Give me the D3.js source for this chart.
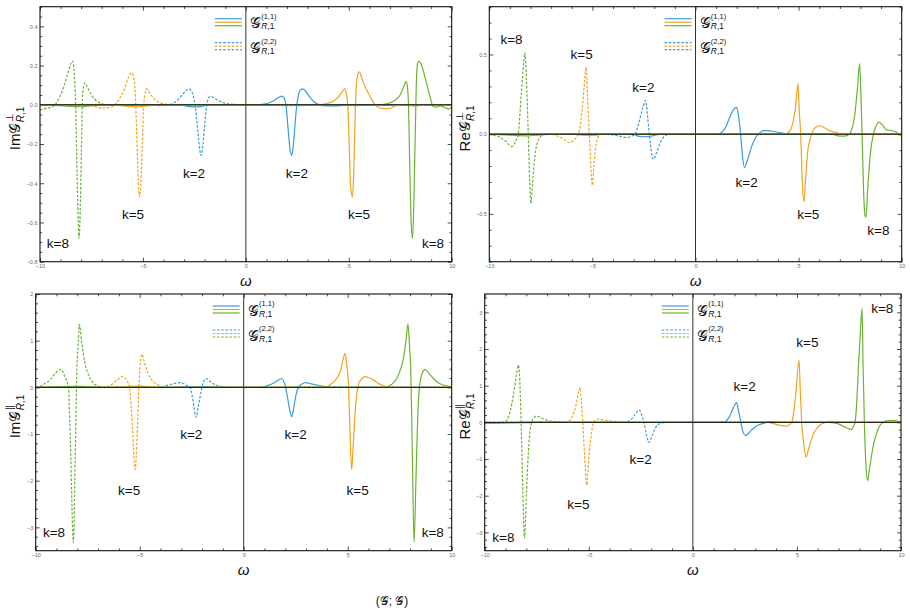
<!DOCTYPE html>
<html>
<head>
<meta charset="utf-8">
<script src="https://cdn.jsdelivr.net/npm/d3@7"></script>
<style>
  body { margin: 0; background: #fff; }
  svg text { font-family: "Liberation Sans", Arial, sans-serif; fill: #111; }
  .tick text { fill: #6a6a6a; font-size: 5.5px; }
</style>
</head>
<body>
<svg id="chart" width="910" height="610"></svg>
<script>
// ---- data ----
const omegaDomain = [-10, 10];
const xTickLabels = [-10, -5, 0, 5, 10];
const kLabels = ['k=8', 'k=5', 'k=2', 'k=2', 'k=5', 'k=8'];

// Im G-perp
const imPerpDomain = [-0.8, 0.5];
const imPerpTicks = [-0.8, -0.6, -0.4, -0.2, 0, 0.2, 0.4];
const imPerpSolidK2 = [[-10,0],[-3.2,0],[-2.8,-0.008],[-2.4,-0.011],[-2.0,-0.005],[-1.2,0],[0.4,0],[0.9,0.004],[1.3,0.018],[1.6,0.038],[1.74,0.044],[1.85,0.035],[1.95,0.0],[2.05,-0.12],[2.15,-0.23],[2.23,-0.258],[2.32,-0.19],[2.42,-0.06],[2.52,0.03],[2.62,0.07],[2.75,0.081],[2.9,0.07],[3.1,0.04],[3.35,0.012],[3.6,0],[3.9,-0.006],[4.3,-0.006],[4.8,-0.002],[5.5,0],[10,0]];
const imPerpSolidK5 = [[-10,0],[-6.3,0],[-5.8,-0.008],[-5.2,-0.01],[-4.7,-0.004],[-4.2,0],[3.4,0],[3.8,0.004],[4.2,0.016],[4.5,0.04],[4.7,0.07],[4.79,0.081],[4.88,0.06],[4.95,0.0],[5.02,-0.2],[5.08,-0.4],[5.12,-0.445],[5.18,-0.469],[5.24,-0.35],[5.3,-0.1],[5.36,0.08],[5.43,0.15],[5.51,0.168],[5.62,0.14],[5.8,0.09],[6.0,0.05],[6.2,0.01],[6.4,-0.01],[6.7,-0.02],[6.95,-0.02],[7.2,-0.008],[7.5,0],[10,0]];
const imPerpSolidK8 = [[-10,0],[-9.0,-0.004],[-8.5,-0.008],[-8.0,-0.01],[-7.5,-0.005],[-7,0],[6.5,0],[6.9,0.006],[7.2,0.02],[7.5,0.05],[7.7,0.1],[7.78,0.12],[7.85,0.09],[7.9,0.0],[7.96,-0.3],[8.03,-0.6],[8.1,-0.68],[8.16,-0.5],[8.22,-0.2],[8.28,0.1],[8.34,0.21],[8.4,0.223],[8.48,0.215],[8.6,0.18],[8.78,0.11],[8.95,0.04],[9.1,-0.01],[9.25,-0.012],[9.43,-0.006],[9.6,-0.01],[9.84,-0.022],[10,-0.012]];
const imPerpDashK2 = [[-10,0],[-4.6,0],[-4.2,-0.004],[-3.85,-0.003],[-3.6,0.004],[-3.35,0.02],[-3.1,0.05],[-2.9,0.072],[-2.76,0.081],[-2.62,0.065],[-2.5,0.02],[-2.4,-0.06],[-2.3,-0.17],[-2.18,-0.258],[-2.08,-0.2],[-1.98,-0.08],[-1.88,0.01],[-1.78,0.04],[-1.71,0.043],[-1.55,0.035],[-1.3,0.02],[-1.0,0.008],[-0.6,0.002],[0,0],[1.8,-0.004],[2.6,-0.005],[3.2,0],[10,0]];
const imPerpDashK5 = [[-10,0],[-7.5,-0.005],[-7.0,-0.017],[-6.7,-0.015],[-6.36,0],[-6.15,0.03],[-5.9,0.08],[-5.7,0.14],[-5.55,0.163],[-5.45,0.14],[-5.37,0.05],[-5.3,-0.15],[-5.23,-0.38],[-5.17,-0.469],[-5.1,-0.4],[-5.03,-0.2],[-4.96,0.0],[-4.88,0.065],[-4.82,0.081],[-4.7,0.065],[-4.5,0.035],[-4.2,0.012],[-3.8,0.002],[-3.4,0],[4.5,0],[5.2,-0.005],[6.0,0],[10,0]];
const imPerpDashK8 = [[-10,-0.026],[-9.7,-0.018],[-9.35,-0.008],[-9.2,0.01],[-9.03,0.043],[-8.85,0.09],[-8.65,0.16],[-8.5,0.21],[-8.41,0.223],[-8.34,0.17],[-8.27,0.0],[-8.2,-0.35],[-8.14,-0.6],[-8.1,-0.68],[-8.05,-0.55],[-7.99,-0.25],[-7.93,0.05],[-7.86,0.105],[-7.81,0.112],[-7.7,0.09],[-7.5,0.05],[-7.25,0.02],[-7.0,0.005],[-6.6,0],[7.5,0],[8.2,-0.006],[9.0,0],[10,0]];
const imPerpLabelPos = [[-9.13,-0.705],[-5.48,-0.556],[-2.52,-0.35],[2.48,-0.35],[5.5,-0.556],[9.09,-0.705]];

// Re G-perp
const rePerpDomain = [-0.8, 0.8];
const rePerpTicks = [-0.5, 0, 0.5];
const rePerpSolidK2 = [[-10,0],[-3.0,0],[-2.8,-0.012],[-2.4,-0.016],[-2.1,-0.01],[-1.7,0],[1.0,0],[1.2,0.005],[1.45,0.04],[1.67,0.11],[1.85,0.155],[2.0,0.168],[2.08,0.12],[2.19,0.0],[2.28,-0.14],[2.38,-0.21],[2.5,-0.17],[2.72,-0.078],[2.9,-0.025],[3.05,0.0],[3.29,0.023],[3.5,0.022],[3.78,0.017],[4.26,0.006],[4.5,0],[10,0]];
const rePerpSolidK5 = [[-10,0],[-6.0,0],[-5.5,-0.006],[-5.0,-0.008],[-4.5,0],[4.3,0],[4.5,0.01],[4.7,0.06],[4.85,0.17],[4.97,0.317],[5.03,0.15],[5.1,0.0],[5.18,-0.3],[5.26,-0.424],[5.33,-0.3],[5.45,-0.1],[5.55,-0.036],[5.68,0.017],[5.85,0.045],[6.04,0.053],[6.25,0.04],[6.52,0.021],[6.85,0.01],[7.1,0],[10,0]];
const rePerpSolidK8 = [[-10,0],[-9,-0.006],[-8.2,-0.01],[-7.5,-0.004],[-7,0],[6.6,0],[6.9,-0.01],[7.2,-0.012],[7.4,-0.005],[7.55,0.02],[7.7,0.1],[7.85,0.28],[7.96,0.443],[8.02,0.25],[8.08,0.0],[8.15,-0.35],[8.22,-0.51],[8.27,-0.52],[8.35,-0.35],[8.5,-0.1],[8.63,0.0],[8.75,0.05],[8.9,0.076],[9.05,0.06],[9.27,0.027],[9.5,0.023],[9.76,0.01],[10,-0.015]];
const rePerpDashK2 = [[-10,0],[-4.6,0],[-4.15,-0.002],[-3.6,-0.015],[-3.34,-0.021],[-3.1,-0.012],[-2.93,0.0],[-2.75,0.07],[-2.55,0.17],[-2.42,0.212],[-2.33,0.12],[-2.24,0.0],[-2.15,-0.1],[-2.05,-0.158],[-1.9,-0.12],[-1.7,-0.05],[-1.5,-0.012],[-1.32,0],[10,0]];
const rePerpDashK5 = [[-10,0],[-7.0,0],[-6.73,-0.01],[-6.35,-0.035],[-6.09,-0.053],[-5.9,-0.035],[-5.68,0.0],[-5.5,0.15],[-5.38,0.33],[-5.31,0.42],[-5.24,0.25],[-5.15,0.0],[-5.07,-0.22],[-5.0,-0.32],[-4.93,-0.2],[-4.8,-0.05],[-4.63,0],[10,0]];
const rePerpDashK8 = [[-10,0],[-9.75,-0.008],[-9.48,-0.019],[-9.2,-0.045],[-8.92,-0.078],[-8.75,-0.05],[-8.6,0.0],[-8.45,0.25],[-8.33,0.45],[-8.27,0.51],[-8.2,0.35],[-8.11,0.0],[-8.04,-0.3],[-7.98,-0.435],[-7.9,-0.3],[-7.75,-0.1],[-7.55,-0.02],[-7.3,0],[10,0]];
const rePerpLabelPos = [[-8.92,0.599],[-5.52,0.5],[-2.53,0.296],[2.48,-0.303],[5.47,-0.504],[8.87,-0.603]];

// Im G-parallel
const imParDomain = [-3.5, 2];
const imParTicks = [-3, -2, -1, 0, 1, 2];
const imParSolidK2 = [[-10,0],[-3.5,0],[-2.8,0.01],[-2.2,0.012],[-1.6,0.005],[-1.0,0],[0.79,0],[1.1,0.03],[1.43,0.086],[1.65,0.15],[1.83,0.19],[1.92,0.13],[1.99,0.05],[2.1,-0.2],[2.22,-0.5],[2.31,-0.63],[2.4,-0.45],[2.52,-0.15],[2.63,0],[2.8,0.07],[3.0,0.1],[3.2,0.08],[3.51,0.05],[3.91,0.015],[4.1,0],[10,0]];
const imParSolidK5 = [[-10,0],[-6.2,0],[-5.5,0.02],[-5.0,0.025],[-4.4,0.01],[-4.0,0],[3.9,0],[4.2,0.07],[4.47,0.19],[4.65,0.35],[4.78,0.6],[4.87,0.73],[4.95,0.5],[5.03,0.12],[5.1,-0.8],[5.19,-1.76],[5.27,-1.2],[5.38,-0.4],[5.51,0.05],[5.65,0.17],[5.83,0.23],[6.0,0.21],[6.23,0.16],[6.45,0.09],[6.71,0.04],[6.96,0],[10,0]];
const imParSolidK8 = [[-10,0],[-9.0,0.01],[-8.3,0.02],[-7.8,0.02],[-7.2,0.005],[-6.8,0],[6.88,0],[7.1,0.06],[7.36,0.19],[7.55,0.4],[7.68,0.62],[7.8,1.0],[7.9,1.36],[7.97,0.9],[8.03,0.4],[8.1,-1.2],[8.19,-3.32],[8.28,-2.0],[8.37,-0.6],[8.45,0.0],[8.58,0.3],[8.72,0.386],[8.9,0.3],[9.12,0.19],[9.35,0.1],[9.6,0.05],[10,0.005]];
const imParDashK2 = [[-10,0],[-4.0,0],[-3.62,0.05],[-3.3,0.085],[-3.06,0.1],[-2.85,0.07],[-2.7,0.03],[-2.58,0.0],[-2.45,-0.25],[-2.29,-0.64],[-2.18,-0.4],[-2.05,-0.1],[-1.95,0.1],[-1.81,0.19],[-1.6,0.12],[-1.35,0.05],[-1.0,0.012],[-0.6,0],[10,0]];
const imParDashK5 = [[-10,0],[-7.2,0],[-6.83,0.0],[-6.43,0.04],[-6.1,0.15],[-5.83,0.23],[-5.65,0.17],[-5.5,0.02],[-5.38,-0.6],[-5.22,-1.76],[-5.12,-1.0],[-5.03,0.1],[-4.95,0.6],[-4.9,0.71],[-4.78,0.55],[-4.6,0.3],[-4.4,0.15],[-4.1,0.05],[-3.8,0.01],[-3.5,0],[10,0]];
const imParDashK8 = [[-10,0],[-9.71,0.04],[-9.5,0.1],[-9.31,0.16],[-9.05,0.3],[-8.9,0.37],[-8.78,0.386],[-8.62,0.25],[-8.43,0.0],[-8.33,-1.2],[-8.19,-3.32],[-8.1,-1.5],[-8.02,0.4],[-7.95,1.0],[-7.9,1.35],[-7.8,1.0],[-7.65,0.55],[-7.45,0.25],[-7.2,0.08],[-6.95,0.02],[-6.7,0],[10,0]];
const imParLabelPos = [[-9.12,-3.1],[-5.51,-2.21],[-2.52,-1.0],[2.5,-1.0],[5.48,-2.21],[9.09,-3.1]];

// Re G-parallel
const reParDomain = [-3.5, 3.5];
const reParTicks = [-3, -2, -1, 0, 1, 2, 3];
const reParSolidK2 = [[-10,-0.02],[-9,-0.01],[-7,0],[1.3,0],[1.55,0.02],[1.75,0.15],[1.95,0.4],[2.1,0.54],[2.2,0.3],[2.31,0.0],[2.42,-0.28],[2.54,-0.36],[2.7,-0.28],[2.91,-0.16],[3.15,-0.07],[3.39,-0.03],[3.71,0.02],[4.0,0.01],[4.35,0],[10,0]];
const reParSolidK5 = [[-10,-0.02],[-9,-0.01],[-7,0],[3.6,0],[4.03,-0.06],[4.3,-0.09],[4.51,-0.11],[4.65,-0.06],[4.75,0.0],[4.85,0.3],[4.95,0.8],[5.1,1.7],[5.16,0.9],[5.23,0.0],[5.33,-0.6],[5.44,-0.95],[5.55,-0.75],[5.71,-0.44],[5.85,-0.25],[6.03,-0.12],[6.2,-0.04],[6.35,0.0],[6.59,0.03],[6.99,0.02],[7.3,0],[10,0]];
const reParSolidK8 = [[-10,-0.02],[-9,-0.01],[-7,0],[6.5,0],[6.91,-0.03],[7.2,-0.1],[7.55,-0.19],[7.63,-0.2],[7.72,-0.1],[7.79,0.0],[7.88,0.6],[7.95,1.47],[8.05,2.5],[8.13,3.11],[8.18,1.5],[8.24,0.0],[8.32,-1.2],[8.4,-1.59],[8.48,-1.3],[8.59,-0.89],[8.7,-0.55],[8.83,-0.3],[8.95,-0.12],[9.07,-0.03],[9.2,0.02],[9.39,0.05],[9.71,0.05],[9.85,0.03],[10,0.02]];
const reParDashK2 = [[-10,0],[-3.6,0],[-3.34,0.0],[-3.1,0.03],[-2.85,0.15],[-2.67,0.3],[-2.57,0.34],[-2.46,0.2],[-2.35,0.0],[-2.22,-0.35],[-2.11,-0.55],[-1.98,-0.4],[-1.8,-0.15],[-1.6,-0.04],[-1.3,0],[10,0]];
const reParDashK5 = [[-10,0],[-6.5,0],[-6.03,0.02],[-5.8,0.15],[-5.6,0.5],[-5.48,0.85],[-5.42,0.95],[-5.35,0.5],[-5.29,0.0],[-5.2,-0.9],[-5.1,-1.71],[-5.0,-1.0],[-4.86,-0.25],[-4.7,0.06],[-4.54,0.09],[-4.3,0.06],[-3.98,0.04],[-3.5,0.01],[-3.0,0],[10,0]];
const reParDashK8 = [[-10,-0.03],[-9.6,-0.03],[-9.26,-0.03],[-9.1,0.0],[-8.94,0.06],[-8.78,0.3],[-8.62,0.75],[-8.5,1.2],[-8.38,1.56],[-8.32,1.2],[-8.25,0.0],[-8.17,-1.8],[-8.09,-3.16],[-8.0,-2.0],[-7.9,-0.8],[-7.8,-0.15],[-7.74,0.0],[-7.6,0.14],[-7.53,0.17],[-7.3,0.13],[-7.02,0.06],[-6.54,0.02],[-6.0,0],[10,0]];
const reParLabelPos = [[-9.1,-3.12],[-5.5,-2.23],[-2.51,-1.0],[2.49,1.0],[5.5,2.18],[9.1,3.11]];

const colors = ['#3d9bd8', '#f5a21f', '#6ab334'];
const G = '\uD835\uDCA2';

// ---- layout ----
const svg = d3.select('#chart');

const panels = [
  { left: 40, right: 451.7, top: 6.7, bottom: 261.7, yDomain: imPerpDomain, yTicks: imPerpTicks, minor: 0.05, fmt: d3.format('.1f'),
    part: 'Im', sup: '\u22A5', solid: [imPerpSolidK2, imPerpSolidK5, imPerpSolidK8], dash: [imPerpDashK2, imPerpDashK5, imPerpDashK8], labels: imPerpLabelPos, yLabelX: 15 },
  { left: 489.3, right: 901.7, top: 6.7, bottom: 261.7, yDomain: rePerpDomain, yTicks: rePerpTicks, minor: 0.1, fmt: d3.format('.1f'),
    part: 'Re', sup: '\u22A5', solid: [rePerpSolidK2, rePerpSolidK5, rePerpSolidK8], dash: [rePerpDashK2, rePerpDashK5, rePerpDashK8], labels: rePerpLabelPos, yLabelX: 465 },
  { left: 35.7, right: 451.7, top: 294, bottom: 550.7, yDomain: imParDomain, yTicks: imParTicks, minor: 0.2, fmt: d3.format('d'),
    part: 'Im', sup: '\u2225', solid: [imParSolidK2, imParSolidK5, imParSolidK8], dash: [imParDashK2, imParDashK5, imParDashK8], labels: imParLabelPos, yLabelX: 15 },
  { left: 484.7, right: 901, top: 294, bottom: 550.7, yDomain: reParDomain, yTicks: reParTicks, minor: 0.2, fmt: d3.format('d'),
    part: 'Re', sup: '\u2225', solid: [reParSolidK2, reParSolidK5, reParSolidK8], dash: [reParDashK2, reParDashK5, reParDashK8], labels: reParLabelPos, yLabelX: 465 }
];

// script G with stacked super/subscript, baseline at (x0, y0)
function indexedG(parent, x0, y0, prefix, sup, mainSize, supSize, subSize, supDy, subDy) {
  const t = parent.append('text').attr('x', x0).attr('y', y0).attr('font-size', mainSize).text(prefix + G);
  const w = t.node().getComputedTextLength();
  parent.append('text').attr('x', x0 + w + 0.3).attr('y', y0 + supDy).attr('font-size', supSize).text(sup);
  const s = parent.append('text').attr('x', x0 + w + 0.3).attr('y', y0 + subDy).attr('font-size', subSize);
  s.append('tspan').attr('font-style', 'italic').text('R');
  s.append('tspan').text(',1');
}

function drawPanel(p) {
  const g = svg.append('g');
  const x = d3.scaleLinear().domain(omegaDomain).range([p.left, p.right]);
  const y = d3.scaleLinear().domain(p.yDomain).range([p.bottom, p.top]);

  const xMinor = d3.range(-10, 11).filter(v => v % 5 !== 0);
  const yMinor = d3.range(Math.ceil(p.yDomain[0] / p.minor - 1e-6), Math.floor(p.yDomain[1] / p.minor + 1e-6) + 1)
    .map(i => +(i * p.minor).toFixed(4))
    .filter(v => !p.yTicks.some(t => Math.abs(t - v) < 1e-6));

  const clean = sel => sel.select('.domain').remove();
  const tickStyle = sel => sel.selectAll('.tick line').attr('stroke', '#222').attr('stroke-width', 0.8);

  // major ticks with labels
  g.append('g').attr('transform', `translate(0,${p.bottom})`)
    .call(d3.axisBottom(x).tickValues(xTickLabels).tickSize(-4).tickPadding(2.5).tickFormat(d3.format('d')))
    .call(clean).call(tickStyle);
  g.append('g').attr('transform', `translate(${p.left},0)`)
    .call(d3.axisLeft(y).tickValues(p.yTicks).tickSize(-4).tickPadding(2.5).tickFormat(p.fmt))
    .call(clean).call(tickStyle);
  g.append('g').attr('transform', `translate(0,${p.top})`)
    .call(d3.axisTop(x).tickValues(xTickLabels).tickSize(-4).tickFormat(''))
    .call(clean).call(tickStyle);
  g.append('g').attr('transform', `translate(${p.right},0)`)
    .call(d3.axisRight(y).tickValues(p.yTicks).tickSize(-4).tickFormat(''))
    .call(clean).call(tickStyle);
  // minor ticks
  [[d3.axisBottom(x).tickValues(xMinor), `translate(0,${p.bottom})`],
   [d3.axisTop(x).tickValues(xMinor), `translate(0,${p.top})`],
   [d3.axisLeft(y).tickValues(yMinor), `translate(${p.left},0)`],
   [d3.axisRight(y).tickValues(yMinor), `translate(${p.right},0)`]].forEach(([ax, tr]) => {
    g.append('g').attr('transform', tr).call(ax.tickSize(-2.3).tickFormat('')).call(clean).call(tickStyle);
  });

  // curves
  const line = d3.line().x(d => x(d[0])).y(d => y(d[1])).curve(d3.curveMonotoneX);
  p.dash.forEach((data, i) => {
    g.append('path').datum(data).attr('d', line).attr('fill', 'none')
      .attr('stroke', colors[i]).attr('stroke-width', 1.2).attr('stroke-dasharray', '2.6,1.6');
  });
  p.solid.forEach((data, i) => {
    g.append('path').datum(data).attr('d', line).attr('fill', 'none')
      .attr('stroke', colors[i]).attr('stroke-width', 1.2);
  });

  // axes through origin
  g.append('line').attr('x1', p.left).attr('x2', p.right).attr('y1', y(0)).attr('y2', y(0))
    .attr('stroke', '#111').attr('stroke-width', 1);
  g.append('line').attr('x1', x(0)).attr('x2', x(0)).attr('y1', p.top).attr('y2', p.bottom)
    .attr('stroke', '#333').attr('stroke-width', 1);

  // frame
  g.append('rect').attr('x', p.left).attr('y', p.top).attr('width', p.right - p.left).attr('height', p.bottom - p.top)
    .attr('fill', 'none').attr('stroke', '#111').attr('stroke-width', 1.1);

  // k labels
  g.selectAll('.klab').data(p.labels).enter().append('text').attr('class', 'klab')
    .attr('x', d => x(d[0])).attr('y', d => y(d[1])).attr('dy', '0.36em')
    .attr('text-anchor', 'middle').attr('font-size', 13.5)
    .text((d, i) => kLabels[i]);

  // legend
  const x0 = x(0);
  [12, 15.5, 19].forEach((dy, i) => {
    g.append('line').attr('x1', x0 - 31).attr('x2', x0 - 4).attr('y1', p.top + dy).attr('y2', p.top + dy)
      .attr('stroke', colors[i]).attr('stroke-width', 1.2);
  });
  [36, 39.5, 43].forEach((dy, i) => {
    g.append('line').attr('x1', x0 - 31).attr('x2', x0 - 4).attr('y1', p.top + dy).attr('y2', p.top + dy)
      .attr('stroke', colors[i]).attr('stroke-width', 1.2).attr('stroke-dasharray', '2.6,1.6');
  });
  indexedG(g, x0 + 4, p.top + 21.5, '', '(1,1)', 15, 7.5, 8.5, -9.5, 1);
  indexedG(g, x0 + 4, p.top + 46.5, '', '(2,2)', 15, 7.5, 8.5, -9.5, 1);

  // axis titles
  g.append('text').attr('x', (p.left + p.right) / 2).attr('y', p.bottom + 24)
    .attr('text-anchor', 'middle').attr('font-size', 15).attr('font-style', 'italic').text('\u03C9');

  const yl = g.append('g');
  indexedG(yl, 0, 0, p.part, p.sup, 15, 10, 10, -7, 3.5);
  const bb = yl.node().getBBox();
  const cy = (p.top + p.bottom) / 2 - 6;
  yl.attr('transform', `translate(${p.yLabelX},${cy}) rotate(-90) translate(${-bb.x - bb.width / 2},${-bb.y - bb.height / 2})`);
}

panels.forEach(drawPanel);

// caption at the bottom edge
svg.append('text').attr('x', 392).attr('y', 605).attr('text-anchor', 'middle').attr('font-size', 12)
  .text('(' + G + '; ' + G + ')');
</script>
</body>
</html>
